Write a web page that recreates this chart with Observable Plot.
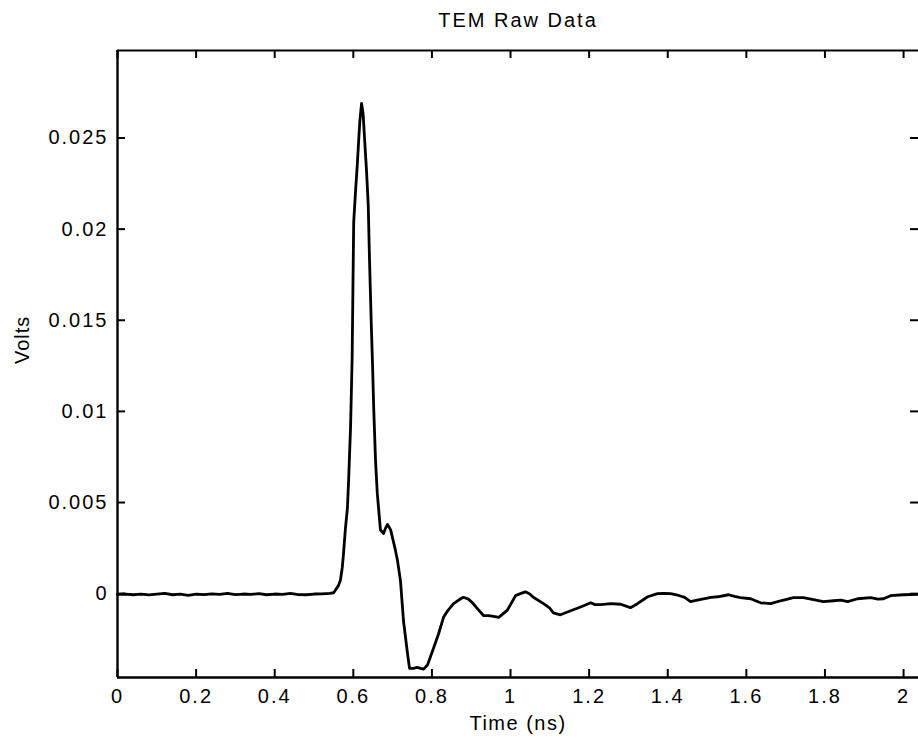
<!DOCTYPE html>
<html>
<head>
<meta charset="utf-8">
<script src="https://cdn.jsdelivr.net/npm/d3@7"></script>
<script src="https://cdn.jsdelivr.net/npm/@observablehq/plot@0.6"></script>
<style>
  html, body { margin: 0; padding: 0; background: #fff; }
  #chart { width: 918px; height: 742px; overflow: hidden; }
  #chart svg text { letter-spacing: 2px; }
</style>
</head>
<body>
<div id="chart"></div>
<script>
// ---- data ----
const titleText = "TEM Raw Data";
const xLabel = "Time (ns)";
const yLabel = "Volts";
const xTicks = [0, 0.2, 0.4, 0.6, 0.8, 1, 1.2, 1.4, 1.6, 1.8, 2];
const yTicks = [0, 0.005, 0.01, 0.015, 0.02, 0.025];
const xDomain = [0, 2.038];
const yDomain = [-0.0046, 0.0298];

const timeNs = [
  0.00, 0.02, 0.04, 0.06, 0.08, 0.10, 0.12, 0.14, 0.16, 0.18,
  0.20, 0.22, 0.24, 0.26, 0.28, 0.30, 0.32, 0.34, 0.36, 0.38,
  0.40, 0.42, 0.44, 0.46, 0.48, 0.50, 0.52, 0.54, 0.55, 0.562,
  0.567, 0.572, 0.575, 0.580, 0.585, 0.588, 0.593, 0.595, 0.597, 0.599,
  0.601, 0.606, 0.610, 0.614, 0.6165, 0.621, 0.625, 0.6285, 0.6336, 0.638,
  0.641, 0.6455, 0.649, 0.652, 0.6565, 0.661, 0.669, 0.677, 0.682, 0.687,
  0.695, 0.707, 0.7125, 0.720, 0.7277, 0.738, 0.743, 0.753, 0.762, 0.771,
  0.779, 0.789, 0.804, 0.817, 0.8295, 0.840, 0.855, 0.873, 0.880, 0.893,
  0.903, 0.919, 0.931, 0.944, 0.957, 0.970, 0.992, 1.000, 1.013, 1.025,
  1.038, 1.048, 1.058, 1.084, 1.100, 1.109, 1.127, 1.153, 1.170, 1.186,
  1.204, 1.215, 1.229, 1.255, 1.280, 1.305, 1.323, 1.349, 1.374, 1.390,
  1.407, 1.428, 1.443, 1.458, 1.475, 1.491, 1.510, 1.527, 1.555, 1.570,
  1.585, 1.611, 1.625, 1.636, 1.662, 1.687, 1.705, 1.720, 1.745, 1.771,
  1.796, 1.822, 1.840, 1.858, 1.883, 1.916, 1.935, 1.949, 1.967, 2.000,
  2.038
];
const volts = [
  -0.00004, -0.00002, -0.00006, -0.00003, -0.00007, -0.00002, 0.00001, -0.00006, -0.00003, -0.00009,
  -0.00002, -0.00005, -0.00001, -0.00004, 0.00001, -0.00005, -0.00002, -0.00004, 0.00000, -0.00006,
  -0.00002, -0.00004, 0.00001, -0.00005, -0.00006, -0.00002, -0.00001, 0.00002, 0.00005, 0.00044,
  0.00072, 0.00145, 0.0022, 0.0036, 0.0047, 0.0062, 0.00916, 0.01104, 0.0129, 0.0167,
  0.0204, 0.0222, 0.0235, 0.0250, 0.0259, 0.0269, 0.0263, 0.0250, 0.0232, 0.0213,
  0.0185, 0.0149, 0.0125, 0.0101, 0.0073, 0.0055, 0.0035, 0.0033, 0.0036, 0.0038,
  0.0035, 0.0024, 0.0018, 0.0007, -0.0015, -0.0033, -0.0041, -0.0041, -0.00405, -0.0041,
  -0.00414, -0.0039, -0.0030, -0.0022, -0.0013, -0.00094, -0.00055, -0.00028, -0.0002, -0.0003,
  -0.0005, -0.0009, -0.0012, -0.0012, -0.00125, -0.0013, -0.0009, -0.0006, -0.0001, 0.0000,
  0.0001, 0.0000, -0.0002, -0.00055, -0.0008, -0.00105, -0.00116, -0.00094, -0.0008, -0.00066,
  -0.0005, -0.0006, -0.0006, -0.00055, -0.00058, -0.00077, -0.00055, -0.00017, 0.0000, 0.00002,
  0.0000, -0.0001, -0.0002, -0.00044, -0.00035, -0.00028, -0.0002, -0.00017, -0.00006, -0.00015,
  -0.00022, -0.00028, -0.0004, -0.0005, -0.00055, -0.00039, -0.0003, -0.00022, -0.00022, -0.00033,
  -0.00044, -0.00039, -0.00035, -0.00044, -0.00028, -0.00022, -0.0003, -0.00028, -0.00011, -0.00006,
  -0.00004
];

const series = timeNs.map((t, i) => ({t, v: volts[i]}));

const W = 918, H = 742;
const mL = 117, mR = 0, mT = 50, mB = 65;
const innerW = W - mL - mR, innerH = H - mT - mB;
const tickLen = 8;
const fs = 20;
const fmtX = d => String(+d.toFixed(1));
const fmtY = d => String(+d.toFixed(3));

const chart = Plot.plot({
  width: W, height: H,
  marginLeft: mL, marginRight: mR, marginTop: mT, marginBottom: mB,
  style: {fontFamily: "'Liberation Sans', Arial, sans-serif", fontSize: fs + "px", color: "#000", background: "#fff", overflow: "visible"},
  x: {domain: xDomain},
  y: {domain: yDomain},
  marks: [
    // tick labels
    Plot.axisX({ticks: xTicks, tickFormat: fmtX, tickSize: 0, tickPadding: 11, label: null, fontSize: fs}),
    Plot.axisY({ticks: yTicks, tickFormat: fmtY, tickSize: 0, tickPadding: 9, label: null, fontSize: fs}),
    // inward ticks, all four sides
    Plot.tickX(xTicks, {x: d => d, insetTop: innerH - tickLen, stroke: "#000", strokeWidth: 2}),
    Plot.tickX(xTicks, {x: d => d, insetBottom: innerH - tickLen, stroke: "#000", strokeWidth: 2}),
    Plot.tickY(yTicks, {y: d => d, insetRight: innerW - tickLen, stroke: "#000", strokeWidth: 2}),
    Plot.tickY(yTicks, {y: d => d, insetLeft: innerW - tickLen, stroke: "#000", strokeWidth: 2}),
    // frame lines (left, bottom, top)
    Plot.ruleX([xDomain[0]], {stroke: "#000", strokeWidth: 2.4}),
    Plot.ruleY([yDomain[0]], {stroke: "#000", strokeWidth: 2.4}),
    Plot.ruleY([yDomain[1]], {stroke: "#000", strokeWidth: 2.2}),
    // the trace
    Plot.line(series, {x: "t", y: "v", stroke: "#000", strokeWidth: 2.8, strokeLinejoin: "round"}),
    // texts
    Plot.text([titleText], {frameAnchor: "top", dy: -38, fontSize: fs, fill: "#000"}),
    Plot.text([xLabel], {frameAnchor: "bottom", dy: 52, fontSize: fs, fill: "#000"}),
    Plot.text([yLabel], {frameAnchor: "left", dx: -95, rotate: -90, fontSize: fs, fill: "#000"})
  ]
});
document.getElementById("chart").appendChild(chart);
d3.select(chart).selectAll("text")
  .filter(function() { return this.textContent === xLabel; })
  .style("letter-spacing", "1.5px");
d3.select(chart).selectAll("text")
  .filter(function() { return this.textContent === yLabel; })
  .style("letter-spacing", "1px");
</script>
</body>
</html>
